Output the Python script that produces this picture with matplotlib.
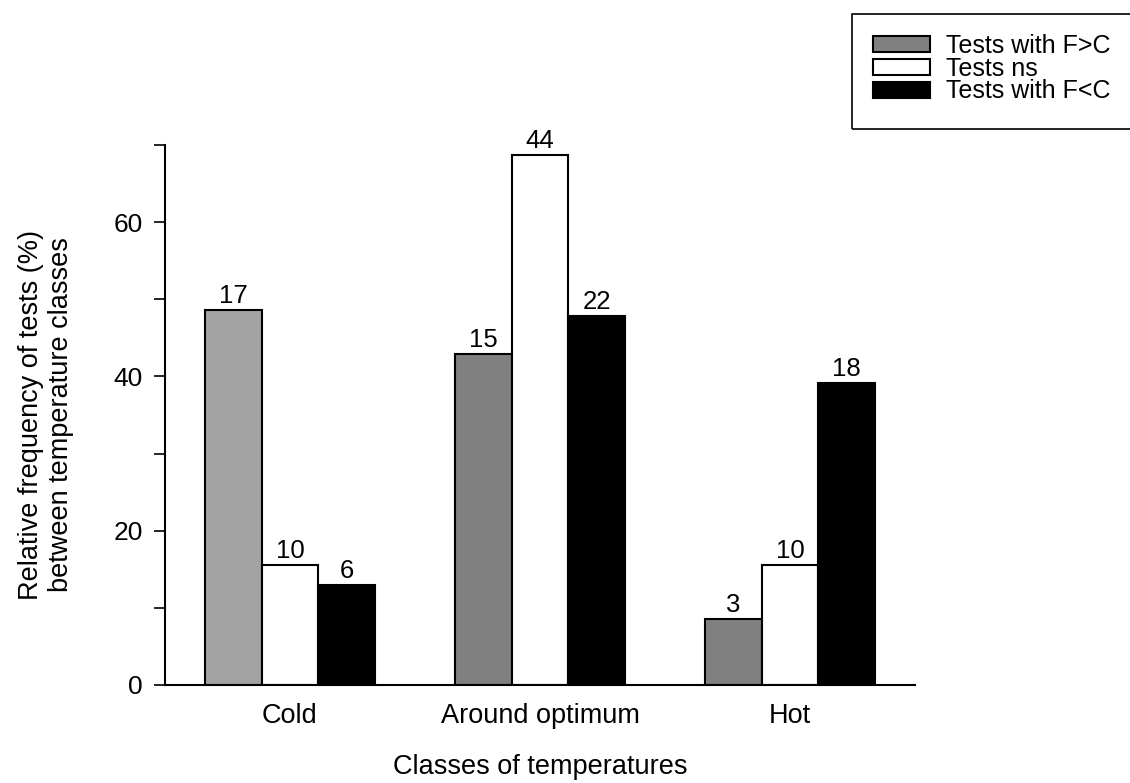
import numpy as np
import matplotlib.pyplot as plt
from matplotlib.patches import Rectangle

plt.rcParams["font.family"] = ["Liberation Sans", "DejaVu Sans"]

# Data
categories = ["Cold", "Around optimum", "Hot"]
series = ["Tests with F>C", "Tests ns", "Tests with F<C"]
pct_fgt = [48.6, 42.9, 8.6]
pct_ns = [15.6, 68.75, 15.6]
pct_flt = [13.0, 47.8, 39.1]
n_fgt = [17, 15, 3]
n_ns = [10, 44, 10]
n_flt = [6, 22, 18]

fig = plt.figure(figsize=(11.3, 7.83), dpi=100)
ax = fig.add_axes([0.146, 0.1252, 0.6637, 0.6896])

x = np.arange(len(categories))
w = 0.227

fgt_colors = ["#a3a3a3", "#808080", "#808080"]
b1 = ax.bar(x - w, pct_fgt, w, color=fgt_colors, edgecolor="black", linewidth=1.5,
            label=series[0])
b2 = ax.bar(x, pct_ns, w, color="white", edgecolor="black", linewidth=1.5,
            label=series[1])
b3 = ax.bar(x + w, pct_flt, w, color="black", edgecolor="black", linewidth=1.5,
            label=series[2])

for bars, counts in [(b1, n_fgt), (b2, n_ns), (b3, n_flt)]:
    for bar, n in zip(bars, counts):
        ax.text(bar.get_x() + bar.get_width() / 2, bar.get_height() + 0.25, str(n),
                ha="center", va="bottom", fontsize=18.5)

ax.set_xlim(-0.5, 2.5)
ax.set_ylim(0, 70)
ax.set_yticks([0, 20, 40, 60])
ax.set_yticks([10, 30, 50, 70], minor=True)
ax.set_xticks(x)
ax.set_xticklabels(categories)
ax.tick_params(axis="y", which="both", direction="out", length=8, width=1.2,
               labelsize=19, pad=8)
ax.tick_params(axis="x", length=0, labelsize=19.5, pad=13)

for s in ["top", "right"]:
    ax.spines[s].set_visible(False)
for s in ["left", "bottom"]:
    ax.spines[s].set_linewidth(1.5)

ax.set_xlabel("Classes of temperatures", fontsize=19.5, labelpad=18)
ax.set_ylabel("Relative frequency of tests (%)\nbetween temperature classes",
              fontsize=19.5, labelpad=28)

leg = fig.legend(handles=[b1[1], b2, b3], labels=series, loc="upper left",
                 bbox_to_anchor=(873 / 1130, 1 - 34 / 783), frameon=False,
                 fontsize=18, handlelength=2.28, handleheight=0.6,
                 handletextpad=0.64, labelspacing=-0.05, borderaxespad=0,
                 borderpad=0)
fig.patches.append(Rectangle((852 / 1130, 1 - 129 / 783), 0.26, 115 / 783,
                             transform=fig.transFigure, fill=False,
                             edgecolor="black", linewidth=1.2))

fig.savefig("out.png", dpi=100)
